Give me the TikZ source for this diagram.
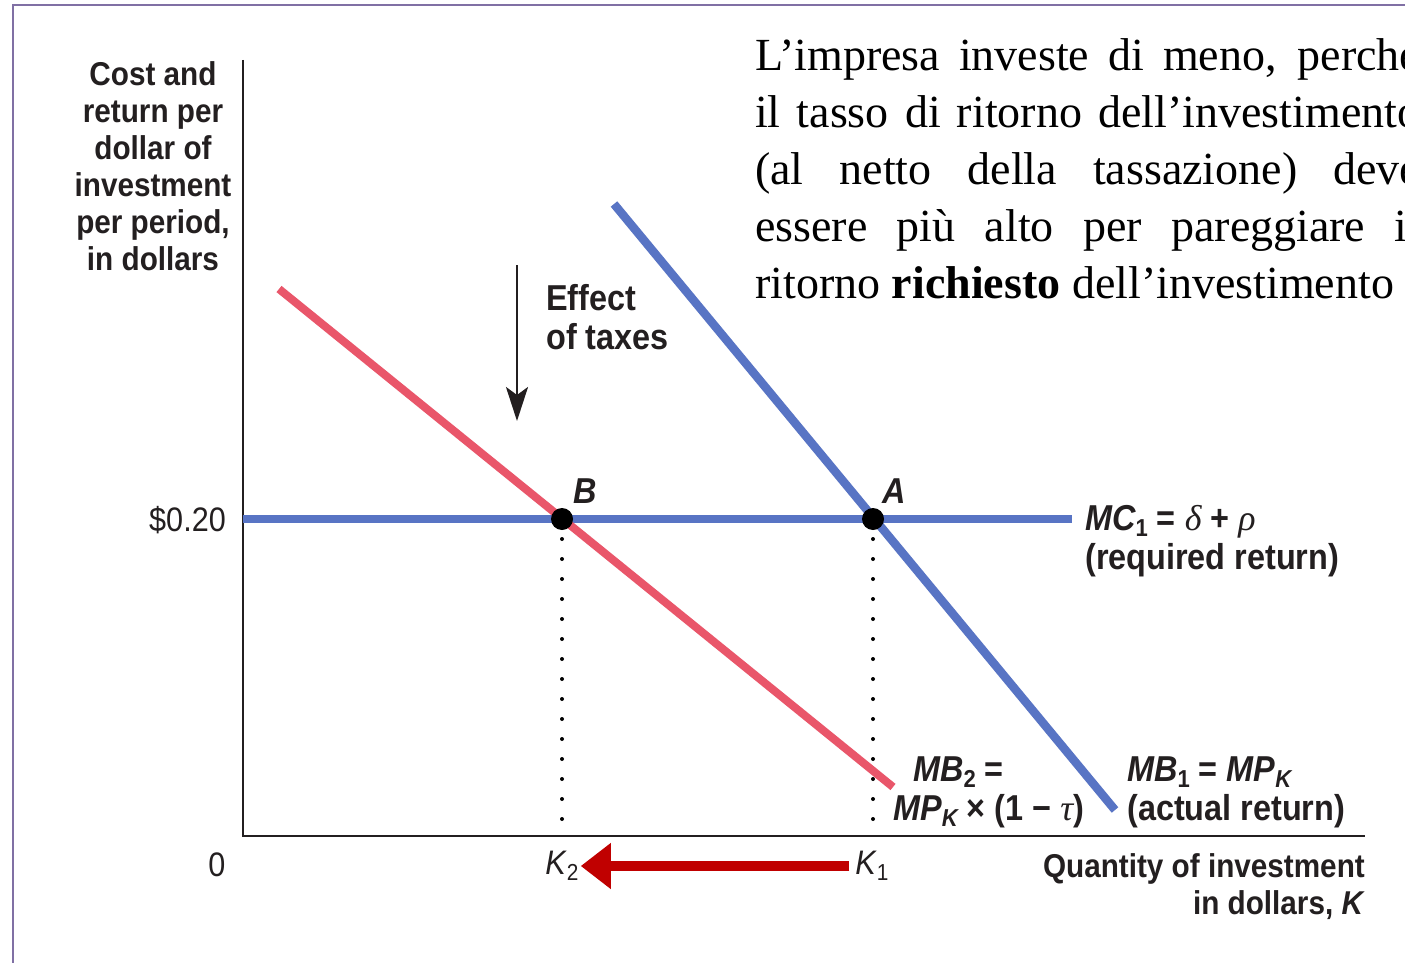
\documentclass[tikz,border=0pt]{standalone}
\usepackage{fontspec}
\setmainfont{Liberation Serif}
\newfontfamily\labfont[FakeStretch=0.9]{Liberation Sans}
\usetikzlibrary{arrows.meta}

\definecolor{mcblue}{RGB}{88,116,196}
\definecolor{mbred}{RGB}{233,86,106}
\definecolor{shiftred}{RGB}{192,0,0}
\definecolor{framepurple}{RGB}{128,112,164}
\definecolor{inkgray}{RGB}{35,31,32}

\newcommand{\gk}[1]{{\rmfamily\mdseries\itshape #1}}
\newcommand{\subsc}[1]{\raisebox{-0.16em}{\scalebox{0.68}{#1}}}

\tikzset{
  axislab/.style={inner sep=0pt, text=inkgray, font=\labfont\bfseries\fontsize{33}{37}\selectfont},
  curvelab/.style={inner sep=0pt, text=inkgray, align=left, font=\labfont\bfseries\fontsize{36}{39}\selectfont},
  ticklab/.style={inner sep=0pt, text=inkgray, font=\labfont\fontsize{34}{38}\selectfont},
  axis/.style={draw=inkgray, line width=2.5pt},
  mcline/.style={draw=mcblue, line width=8.5pt},
  mbline/.style={draw=mbred, line width=8pt},
  dropline/.style={draw=black, line width=4pt, line cap=round, dash pattern=on 0pt off 20pt},
  dot/.style={circle, fill=black, minimum size=22pt, inner sep=0pt},
  taxarrow/.style={draw=inkgray, line width=2.5pt, -{Stealth[length=34pt, width=22pt, inset=8pt]}},
  shiftarrow/.style={draw=shiftred, line width=10pt, -{Triangle[length=30pt, width=44pt]}}
}

\begin{document}
\begin{tikzpicture}[x=1pt, y=-1pt]
    \useasboundingbox (0,0) rectangle (1405,963);
    \fill[white] (0,0) rectangle (1405,963);
    \draw[framepurple, line width=2pt] (13,963) -- (13,5) -- (1405,5);

    % Italian comment, cut at the right edge
    \begin{scope}
      \clip (0,0) rectangle (1405,963);
      \node[anchor=north west, inner sep=0pt, text width=665pt, align=justify,
            font=\fontsize{46}{57}\selectfont] (note) at (755,38)
        {L’impresa investe di meno, perché\linebreak
         il tasso di ritorno dell’investimento\linebreak
         (al netto della tassazione) deve\linebreak
         essere più alto per pareggiare il\linebreak
         ritorno \textbf{richiesto} dell’investimento};
    \end{scope}

    % axes
    \coordinate (ytop) at (243,60);
    \coordinate (O) at (243,836);
    \coordinate (xend) at (1365,836);
    \draw[axis] (ytop) -- (O) -- (xend);
    \node[axislab, anchor=north, align=center] (ylab) at (153,61)
      {Cost and\\return per\\dollar of\\investment\\per period,\\in dollars};
    \node[axislab, anchor=north east, align=right] (xlab) at (1365,853)
      {Quantity of investment\\in dollars, \textit{K}};
    \node[ticklab, anchor=base east] (rate) at (226,531) {\$0.20};
    \node[ticklab] (zero) at (217,865) {0};
    \node[ticklab] (K2) at (562,866) {\textit{K}\subsc{2}};
    \node[ticklab] (K1) at (872,866) {\textit{K}\subsc{1}};

    % curves
    \coordinate (mc0) at (243,519);
    \coordinate (mc1) at (1072,519);
    \coordinate (mb1top) at (614,204);
    \coordinate (mb1bot) at (1115,810);
    \coordinate (mb2top) at (279,289);
    \coordinate (mb2bot) at (893,787);
    \draw[mcline] (mc0) -- (mc1);
    \draw[mcline] (mb1top) -- (mb1bot);
    \draw[mbline] (mb2top) -- (mb2bot);

    \coordinate (Bc) at (562,519);
    \coordinate (Ac) at (873,519);
    \draw[dropline] (Bc) -- (Bc |- O);
    \draw[dropline] (Ac) -- (Ac |- O);
    \node[dot] (B) at (Bc) {};
    \node[dot] (A) at (Ac) {};
    \node[curvelab, anchor=base west] (Blab) at (573,503) {\itshape B};
    \node[curvelab, anchor=base west] (Alab) at (882,503) {\itshape A};

    \node[curvelab, anchor=north west] (mclab) at (1085,505)
      {{\itshape MC}\subsc{1} = \gk{δ} + \gk{ρ}\\(required return)};
    \node[curvelab, anchor=north west] (mb2lab) at (893,757)
      {\hspace*{20pt}{\itshape MB}\subsc{2} =\\{\itshape MP\subsc{K}} × (1 − \gk{τ})};
    \node[curvelab, anchor=north west] (mb1lab) at (1127,757)
      {{\itshape MB}\subsc{1} = {\itshape MP\subsc{K}}\\(actual return)};

    % effect of taxes
    \coordinate (eff0) at (517,265);
    \coordinate (eff1) at (517,421);
    \draw[taxarrow] (eff0) -- (eff1);
    \node[curvelab, anchor=north west] (efflab) at (546,284) {Effect\\of taxes};

    \draw[shiftarrow, shorten <=6pt, shorten >=2pt] (K1.west) -- (K2.east);
\end{tikzpicture}
\end{document}
